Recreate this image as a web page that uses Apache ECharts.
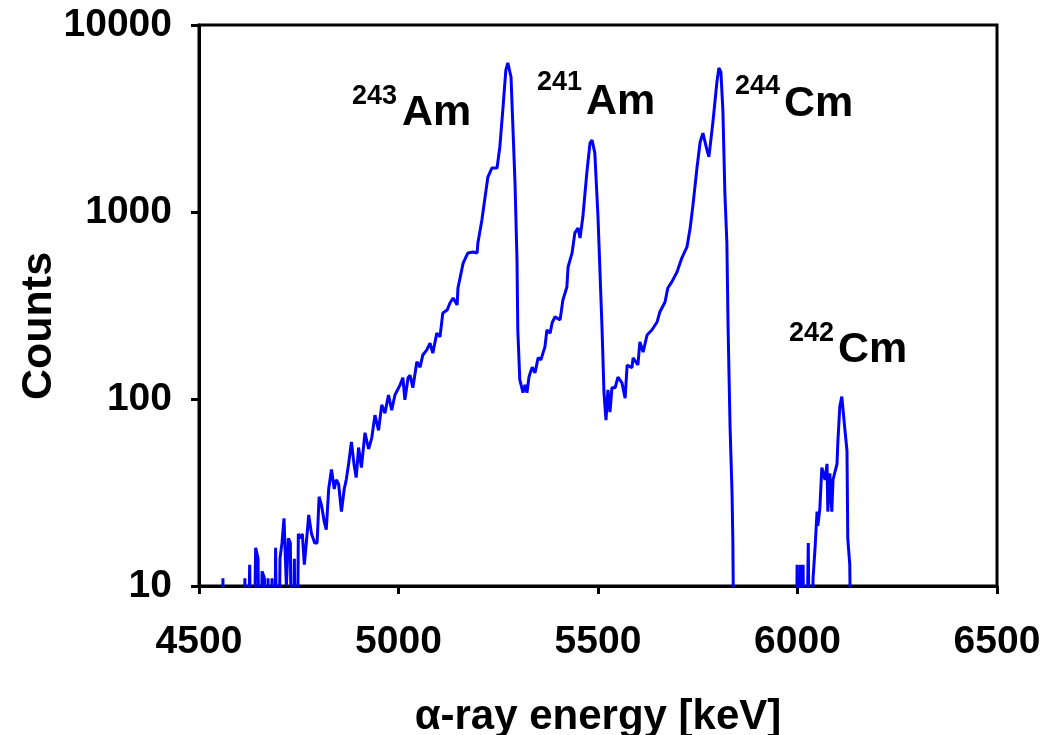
<!DOCTYPE html>
<html>
<head>
<meta charset="utf-8">
<script src="https://cdn.jsdelivr.net/npm/echarts@6/dist/echarts.min.js"></script>
<style>
html,body{margin:0;padding:0;background:#fff;}
#chart{width:1060px;height:735px;}
</style>
</head>
<body>
<div id="chart"></div>
<script>
// [alpha-ray energy (keV), counts], by region
const lowTail = [[4540,1],[4558,1],[4560,11],[4563,1],[4610,1],[4615,11],[4619,1],[4623,1],[4627,13],[4630,13],[4634,1],[4638,1],[4642,16],[4645,16],[4648,14],[4650,14],[4653,1],[4655,1],[4658,12],[4660,12],[4664,11],[4668,11],[4671,1],[4673,11],[4676,11],[4678,1],[4681,1],[4683,11],[4686,11],[4688,1],[4692,16],[4695,16],[4698,1],[4700,1],[4703,14],[4705,14],[4708,17],[4711,17],[4713,23],[4716,23],[4719,10],[4721,10],[4724,18],[4726,18],[4729,17],[4731,17],[4734,1],[4736,1],[4739,14],[4741,14],[4744,1],[4746,1],[4749,19],[4751,19],[4754,18],[4756,18],[4759,19],[4761,19],[4764,13],[4766,13],[4769,17],[4771,17],[4775,24],[4778,24],[4782,19],[4786,19],[4790,17],[4793,17],[4796,17],[4798,17],[4801,30],[4803,30],[4807,27],[4811,27],[4814,22],[4816,22],[4819,20],[4821,20],[4825,33],[4828,33],[4832,42],[4836,42],[4839,33],[4841,33],[4844,37],[4846,37],[4850,35],[4853,35],[4857,25],[4861,25],[4864,33],[4866,33],[4869,37],[4871,37],[4875,45],[4878,45],[4882,59],[4886,59],[4889,44],[4891,44],[4894,38],[4896,38],[4900,55],[4903,55],[4907,43],[4911,43],[4916,66],[4921,66],[4925,54],[4929,54],[4933,62],[4936,62],[4941,82],[4946,82],[4950,68],[4954,68],[4958,93],[4961,93],[4966,84],[4971,84],[4975,105],[4979,105],[4983,87],[4986,87],[4991,105],[4996,105]];

const am243 = [[5004,119],[5011,130],[5016,99],[5024,130],[5029,134],[5036,115],[5046,158],[5054,148],[5061,172],[5071,183],[5079,199],[5086,176],[5096,225],[5104,215],[5111,288],[5122,299],[5129,326],[5137,347],[5147,318],[5149,392],[5162,533],[5174,604],[5187,611],[5197,604],[5199,682],[5209,906],[5217,1202],[5224,1538],[5234,1718],[5247,1718],[5254,2229],[5262,3640],[5269,5740],[5274,6270],[5282,5270],[5292,1429],[5297,553],[5299,234],[5304,127],[5312,108],[5317,119],[5322,108]];

const am241 = [[5327,131],[5335,148],[5342,138],[5350,166],[5357,162],[5362,176],[5367,190],[5372,234],[5380,225],[5385,255],[5392,275],[5405,265],[5412,338],[5422,397],[5425,508],[5435,604],[5442,773],[5450,820],[5455,726],[5462,940],[5472,1618],[5480,2339],[5485,2427],[5492,2071],[5500,940],[5510,243],[5515,108],[5520,77],[5525,112],[5530,85],[5535,115]];

const cm244 = [[5543,115],[5550,131],[5560,122],[5568,101],[5573,152],[5585,147],[5588,166],[5600,152],[5605,202],[5613,178],[5623,220],[5635,234],[5648,258],[5655,292],[5668,330],[5675,392],[5685,423],[5698,478],[5710,567],[5723,650],[5731,820],[5738,1089],[5748,1718],[5756,2367],[5763,2640],[5773,2149],[5778,1970],[5788,3027],[5798,4954],[5803,5890],[5808,5610],[5813,3507],[5818,1264],[5823,682],[5826,243],[5831,71],[5836,31],[5838,17],[5843,1]];

const cm242 = [[5995,1],[5999,13],[6002,13],[6004,1],[6007,13],[6009,13],[6011,1],[6014,13],[6017,13],[6019,1],[6027,17],[6030,17],[6032,1],[6036,1],[6039,11],[6044,16],[6049,25],[6051,21],[6056,26],[6061,43],[6065,43],[6069,37],[6074,45],[6076,25],[6079,25],[6081,40],[6084,40],[6086,25],[6089,37],[6094,37],[6099,45],[6101,58],[6106,91],[6111,103],[6114,105],[6119,68],[6124,53],[6126,18],[6131,13],[6137,1],[6150,1]];

const xTicks = [4500, 5000, 5500, 6000, 6500];
const yTicks = [10, 100, 1000, 10000];

const spectrum = [].concat(lowTail, am243, am241, cm244, cm242);

const FONT = '"Liberation Sans", Arial, Helvetica, sans-serif';
const chart = echarts.init(document.getElementById('chart'));

function lbl(sup, main, xs, ys, xm, ym) {
  return [
    {type:'text', x: xs, y: ys, style:{text: sup, fill:'#000', font:'bold 27px ' + FONT, align:'left', verticalAlign:'middle'}},
    {type:'text', x: xm, y: ym, style:{text: main, fill:'#000', font:'bold 43px ' + FONT, align:'left', verticalAlign:'middle'}}
  ];
}

chart.setOption({
  animation: false,
  backgroundColor: '#fff',
  grid: {left: 199, right: 63, top: 25, bottom: 149, outerBoundsMode: 'none', containLabel: false, show: true, borderColor: '#000', borderWidth: 3, backgroundColor: '#fff'},
  xAxis: {
    type: 'value', min: xTicks[0], max: xTicks[xTicks.length-1], interval: 500,
    axisLine: {show: true, onZero: false, lineStyle: {color: '#000', width: 3}},
    axisTick: {show: true, length: 8, lineStyle: {color: '#000', width: 3}},
    axisLabel: {fontSize: 39, fontWeight: 'bold', color: '#000', fontFamily: FONT, margin: 37, formatter: v => String(v)},
    splitLine: {show: false},
    name: 'α-ray energy [keV]', nameLocation: 'middle', nameGap: 110,
    nameTextStyle: {fontSize: 42, fontWeight: 'bold', color: '#000', fontFamily: FONT}
  },
  yAxis: {
    type: 'log', logBase: 10, min: yTicks[0], max: yTicks[yTicks.length-1],
    axisLine: {show: true, lineStyle: {color: '#000', width: 3}},
    axisTick: {show: true, length: 8, lineStyle: {color: '#000', width: 3}},
    axisLabel: {fontSize: 39, fontWeight: 'bold', color: '#000', fontFamily: FONT, margin: 27, formatter: v => String(Math.round(v))},
    splitLine: {show: false},
    minorTick: {show: false}
  },
  graphic: [
    {type:'text', x: 39, y: 326, rotation: Math.PI/2, style:{text:'Counts', fill:'#000', font:'bold 43px ' + FONT, align:'center', verticalAlign:'middle'}},
    ...lbl('243', 'Am', 352, 97, 402, 113),
    ...lbl('241', 'Am', 537, 83, 586, 102),
    ...lbl('244', 'Cm', 735, 87, 784, 104),
    ...lbl('242', 'Cm', 789, 334, 838, 350)
  ],
  series: [{
    type: 'line',
    data: spectrum,
    showSymbol: false, symbol: 'none',
    clip: true,
    lineStyle: {color: '#0000ff', width: 3},
    itemStyle: {color: '#0000ff'}
  }]
});
</script>
</body>
</html>
